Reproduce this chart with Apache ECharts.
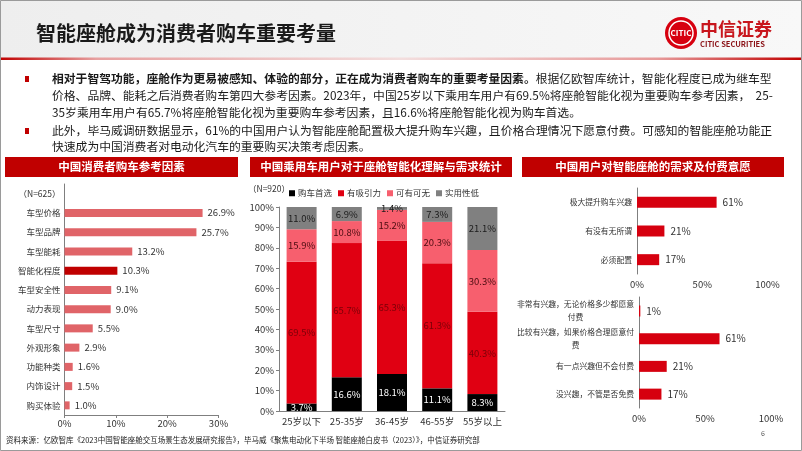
<!DOCTYPE html>
<html><head><meta charset="utf-8">
<script src="https://cdn.jsdelivr.net/npm/echarts@6/dist/echarts.min.js"></script>
<style>html,body{margin:0;padding:0;background:#fff}#c{width:802px;height:451px}</style>
</head><body><div id="c"></div>
<script>
const FONT = '"Noto Sans CJK SC", "Noto Sans", sans-serif';
// ---- Left chart data ----
const factorCats = ['（N=625）','车型价格','车型品牌','车型能耗','智能化程度','车型安全性','动力表现','车型尺寸','外观形象','功能种类','内饰设计','购买体验'];
const factorVals = [null,26.9,25.7,13.2,10.3,9.1,9.0,5.5,2.9,1.6,1.5,1.0];
const factorHighlight = '智能化程度';
const factorTicks = [0,10,20,30];
// ---- Middle chart data ----
const ageCats = ['25岁以下','25-35岁','36-45岁','46-55岁','55岁以上'];
const firstChoice = [3.7,16.6,18.1,11.1,8.3];
const attractive = [69.5,65.7,65.3,61.3,40.3];
const optional = [15.9,10.8,15.2,20.3,30.3];
const lowUtility = [11.0,6.9,1.4,7.3,21.1];
const stackNames = ['购车首选','有吸引力','可有可无','实用性低'];
// ---- Right top ----
const demandCats = ['极大提升购车兴趣','有没有无所谓','必须配置'];
const demandVals = [61,21,17];
// ---- Right bottom ----
const payCats = ['非常有兴趣，无论价格多少都愿意\n付费','比较有兴趣，如果价格合理愿意付\n费','有一点兴趣但不会付费','没兴趣，不管是否免费'];
const payVals = [1,61,21,17];

const chart = echarts.init(document.getElementById('c'));
const axisGray = '#7f7f7f';
const txt = '#333333';

function header(x, w, text) {
  return {
    type: 'group', children: [
      {type:'rect', shape:{x:x, y:157, width:w, height:20}, style:{fill:'#C00000'}},
      {type:'text', x:x + w/2, y:167, style:{text:text, fill:'#fff', font:'bold 11.5px ' + FONT, textAlign:'center', textVerticalAlign:'middle'}}
    ]
  };
}
function para(y, text, rich) {
  return {type:'text', x:52, y:y, style:{text:text, rich:rich, fill:'#1a1a1a', font:'11.8px ' + FONT, textVerticalAlign:'middle'}};
}
const richB = {b:{fontWeight:'bold', fontSize:11.8, fontFamily:FONT, fill:'#1a1a1a'}, n:{fontSize:11.8, fontFamily:FONT, fill:'#1a1a1a'}};

const wrapRich = v => v.split('\n').map(l => '{c|' + l + '}').join('\n');

const option = {
  animation: false,
  textStyle: {fontFamily: FONT},
  graphic: [
    {type:'rect', shape:{x:0, y:0, width:802, height:58}, style:{fill:{type:'linear', x:0, y:0, x2:1, y2:0, colorStops:[{offset:0,color:'#eeeeee'},{offset:1,color:'#f8f8f8'}]}}},
    {type:'rect', shape:{x:0, y:57.5, width:802, height:2.5}, style:{fill:{type:'linear', x:0, y:0, x2:1, y2:0, colorStops:[{offset:0,color:'#C00000'},{offset:0.12,color:'#e7a0a0'},{offset:0.5,color:'#f3dede'},{offset:0.82,color:'#e79a9a'},{offset:1,color:'#C00000'}]}}},
    {type:'rect', shape:{x:0.5, y:0.5, width:801, height:450}, style:{fill:'none', stroke:'#9a9a9a', lineWidth:1}},
    {type:'text', x:36, y:33, style:{text:'智能座舱成为消费者购车重要考量', fill:'#1a1a1a', font:'bold 20px ' + FONT, textVerticalAlign:'middle'}},
    // logo
    {type:'circle', shape:{cx:681, cy:33, r:16}, style:{fill:'#D7000F'}},
    {type:'circle', shape:{cx:681, cy:33, r:12}, style:{fill:'none', stroke:'#fff', lineWidth:1.5}},
    {type:'text', x:681, y:33, style:{text:'CITIC', fill:'#fff', font:'bold 8px ' + FONT, textAlign:'center', textVerticalAlign:'middle'}},
    {type:'text', x:700, y:29, style:{text:'中信证券', fill:'#C8161D', font:'bold 18px ' + FONT, textVerticalAlign:'middle'}},
    {type:'text', x:700, y:44, style:{text:'CITIC SECURITIES', fill:'#8a1015', font:'bold 7.5px ' + FONT, textVerticalAlign:'middle'}},
    // bullets
    {type:'rect', shape:{x:25, y:76, width:4, height:6}, style:{fill:'#C00000'}},
    {type:'rect', shape:{x:25, y:128, width:4, height:6}, style:{fill:'#C00000'}},
    para(79, '{b|相对于智驾功能，座舱作为更易被感知、体验的部分，正在成为消费者购车的重要考量因素。}{n|根据亿欧智库统计，智能化程度已成为继车型}', richB),
    para(96, '价格、品牌、能耗之后消费者购车第四大参考因素。2023年，中国25岁以下乘用车用户有69.5%将座舱智能化视为重要购车参考因素，  25-'),
    para(113, '35岁乘用车用户有65.7%将座舱智能化视为重要购车参考因素，且16.6%将座舱智能化视为购车首选。'),
    para(131, '此外，毕马威调研数据显示，61%的中国用户认为智能座舱配置极大提升购车兴趣，且价格合理情况下愿意付费。可感知的智能座舱功能正'),
    para(147, '快速成为中国消费者对电动化汽车的重要购买决策考虑因素。'),
    header(5, 233, '中国消费者购车参考因素'),
    header(250, 262, '中国乘用车用户对于座舱智能化理解与需求统计'),
    header(522, 262, '中国用户对智能座舱的需求及付费意愿'),
    {type:'text', x:248, y:189, style:{text:'（N=920）', fill:txt, font:'8.5px ' + FONT, textVerticalAlign:'middle'}},
    {type:'text', x:6, y:440, style:{text:'资料来源：亿欧智库《2023中国智能座舱交互场景生态发展研究报告》，毕马威《聚焦电动化下半场 智能座舱白皮书（2023）》，中信证券研究部', fill:'#222', font:'7.5px ' + FONT, textVerticalAlign:'middle'}},
    {type:'text', x:763, y:433, style:{text:'6', fill:'#555', font:'7px ' + FONT, textAlign:'center', textVerticalAlign:'middle'}}
  ],
  legend: {
    data: stackNames, left: 284, top: 184, itemWidth: 6, itemHeight: 6, itemGap: 6, icon: 'rect',
    textStyle: {fontSize: 8.5, color: txt, padding: [0,0,0,-2]}
  },
  grid: [
    {left:64.5, top:184, width:154, height:231},
    {left:279, top:207, width:226, height:204},
    {left:637, top:188, width:130.5, height:86},
    {left:639, top:297, width:132, height:111}
  ],
  xAxis: [
    {gridIndex:0, type:'value', min:factorTicks[0], max:factorTicks[factorTicks.length-1], interval:10, splitLine:{show:false},
      axisLine:{show:true, lineStyle:{color:axisGray}}, axisTick:{show:true, length:3, lineStyle:{color:axisGray}},
      axisLabel:{formatter:'{value}%', fontSize:9.5, color:txt, margin:4}},
    {gridIndex:1, type:'category', data:ageCats, axisLine:{lineStyle:{color:axisGray}}, axisTick:{length:4, lineStyle:{color:axisGray}},
      axisLabel:{fontSize:9.5, color:txt, margin:6, interval:0}},
    {gridIndex:2, type:'value', min:0, max:100, interval:50, splitLine:{show:false}, axisLine:{show:false}, axisTick:{show:false},
      axisLabel:{formatter:'{value}%', fontSize:9.5, color:txt, margin:6}},
    {gridIndex:3, type:'value', min:0, max:100, interval:50, splitLine:{show:false}, axisLine:{show:false}, axisTick:{show:false},
      axisLabel:{formatter:'{value}%', fontSize:9.5, color:txt, margin:6}}
  ],
  yAxis: [
    {gridIndex:0, type:'category', data:factorCats, inverse:true, axisLine:{lineStyle:{color:axisGray}}, axisTick:{show:false},
      axisLabel:{fontSize:8.5, color:txt, margin:4, interval:0}},
    {gridIndex:1, type:'value', min:0, max:100, interval:10, splitLine:{show:false},
      axisLine:{show:true, lineStyle:{color:axisGray}}, axisTick:{show:true, length:3, lineStyle:{color:axisGray}},
      axisLabel:{formatter:'{value}%', fontSize:9.5, color:txt, margin:5}},
    {gridIndex:2, type:'category', data:demandCats, inverse:true, axisLine:{lineStyle:{color:axisGray}}, axisTick:{length:4, lineStyle:{color:axisGray}},
      axisLabel:{fontSize:7.8, color:txt, margin:5, interval:0}},
    {gridIndex:3, type:'category', data:payCats, inverse:true, axisLine:{lineStyle:{color:axisGray}}, axisTick:{length:4, lineStyle:{color:axisGray}},
      axisLabel:{fontSize:7.8, color:txt, margin:5, interval:0, lineHeight:13, formatter:wrapRich, rich:{c:{align:'center', fontSize:7.8, color:txt, lineHeight:13}}}}
  ],
  series: [
    {type:'bar', xAxisIndex:0, yAxisIndex:0, barWidth:8,
      data: factorVals.map((v,i) => ({value:v, itemStyle:{color: factorCats[i] === factorHighlight ? '#C00000' : '#E06468'}})),
      label:{show:true, position:'right', distance:5, fontSize:9.5, color:txt, formatter:p => p.value == null ? '' : p.value.toFixed(1) + '%'}},
    {name:stackNames[0], type:'bar', stack:'a', xAxisIndex:1, yAxisIndex:1, barWidth:30, data:firstChoice, itemStyle:{color:'#000000'},
      label:{show:true, position:'inside', fontSize:9.5, color:'#ffffff', formatter:p => p.value.toFixed(1) + '%'}},
    {name:stackNames[1], type:'bar', stack:'a', xAxisIndex:1, yAxisIndex:1, barWidth:30, data:attractive, itemStyle:{color:'#E00012'},
      label:{show:true, position:'inside', fontSize:9.5, color:'#7a0008', formatter:p => p.value.toFixed(1) + '%'}},
    {name:stackNames[2], type:'bar', stack:'a', xAxisIndex:1, yAxisIndex:1, barWidth:30, data:optional, itemStyle:{color:'#F75F6E'},
      label:{show:true, position:'inside', fontSize:9.5, color:'#4a0c10', formatter:p => p.value.toFixed(1) + '%'}},
    {name:stackNames[3], type:'bar', stack:'a', xAxisIndex:1, yAxisIndex:1, barWidth:30, data:lowUtility, itemStyle:{color:'#808080'},
      label:{show:true, position:'inside', fontSize:9.5, color:'#1a1a1a', formatter:p => p.value.toFixed(1) + '%'}},
    {type:'bar', xAxisIndex:2, yAxisIndex:2, barWidth:11, data:demandVals, itemStyle:{color:'#D6000F'},
      label:{show:true, position:'right', distance:6, fontSize:10, color:txt, formatter:'{c}%'}},
    {type:'bar', xAxisIndex:3, yAxisIndex:3, barWidth:11, data:payVals, itemStyle:{color:'#D6000F'},
      label:{show:true, position:'right', distance:6, fontSize:10, color:txt, formatter:'{c}%'}}
  ]
};
chart.setOption(option);
</script>
</body></html>
